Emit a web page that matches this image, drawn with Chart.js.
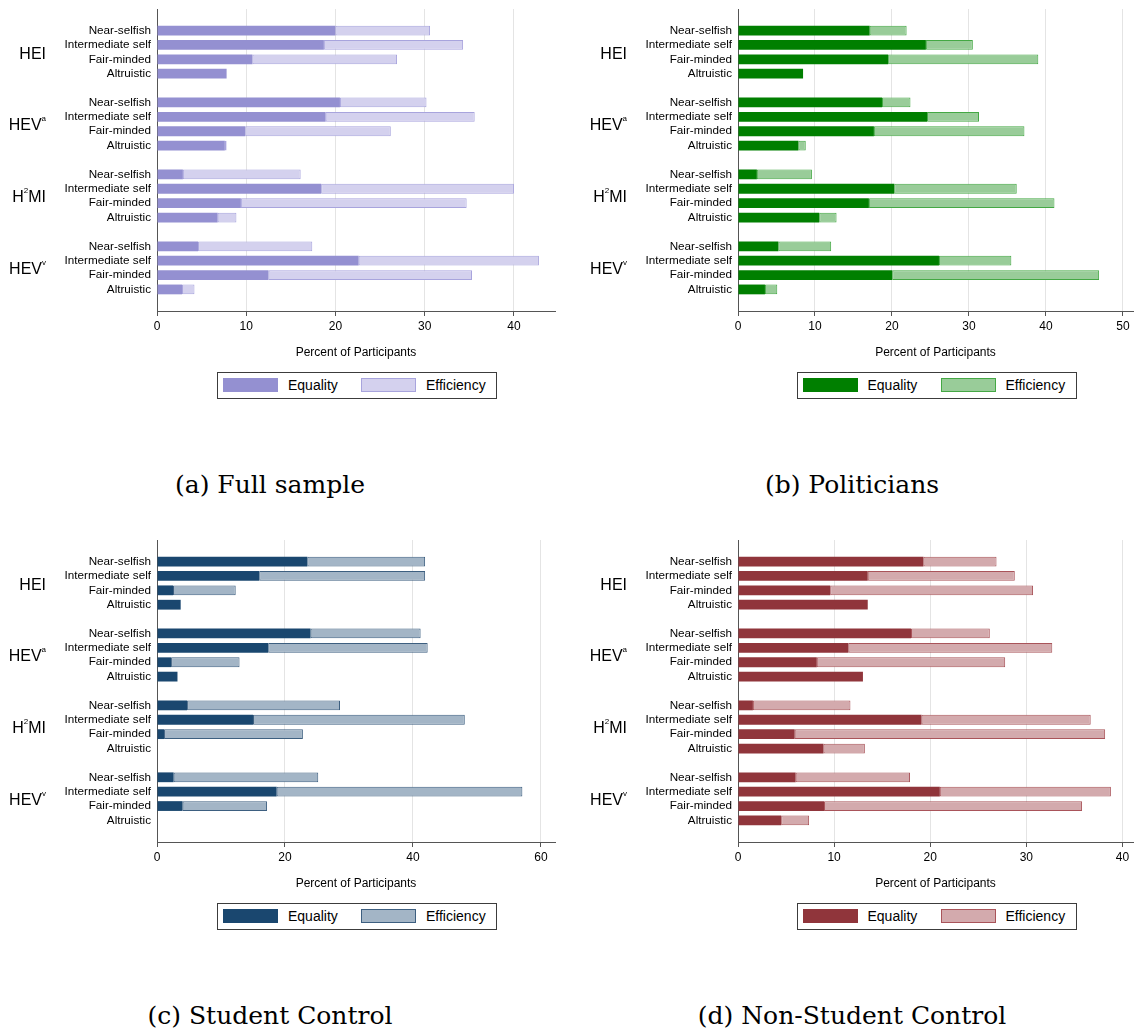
<!DOCTYPE html>
<html>
<head>
<meta charset="utf-8">
<script src="https://cdn.jsdelivr.net/npm/chart.js@4.4.1/dist/chart.umd.min.js"></script>
<style>
  body { margin: 0; background: #fff; width: 1136px; height: 1032px; position: relative; overflow: hidden;
         font-family: "Liberation Sans", Arial, sans-serif; }
  .panel { position: absolute; }
  .legend { position: absolute; width: 278px; height: 25px; border: 1px solid #3c3c3c; font-size: 14px; color: #000; }
  .legend .sw { position: absolute; top: 5px; width: 55px; height: 14px; box-sizing: border-box; }
  .legend .lb { position: absolute; top: 0; line-height: 25px; }
  .caption { position: absolute; font-family: "DejaVu Serif", serif; font-size: 25px; line-height: 30px;
             text-align: center; color: #000; }
</style>
</head>
<body>
<script>
const rowLabels = ["Near-selfish", "Intermediate self", "Fair-minded", "Altruistic"];
const groupMain = ["HEI", "HEV", "H", "HEV"];
const groupSup  = ["", "a", "2", "v"];
const groupTail = ["", "", "MI", ""];
const seriesNames = ["Equality", "Efficiency"];
const axisTitle = "Percent of Participants";

// values per group: HEI, HEV^a, H^2MI, HEV^v  (4 rows each)
const fullEquality   = [20.0, 18.7, 10.7, 7.8,   20.5, 18.9, 9.9, 7.6,    2.9, 18.4, 9.4, 6.8,    4.6, 22.6, 12.5, 2.8];
const fullEfficiency = [10.6, 15.6, 16.2, null,  9.7, 16.7, 16.3, 0.2,    13.2, 21.6, 25.3, 2.1,  12.8, 20.2, 22.8, 1.4];

const polEquality    = [17.1, 24.4, 19.5, 8.45,  18.7, 24.55, 17.65, 7.85, 2.45, 20.3, 17.0, 10.55, 5.25, 26.1, 20.05, 3.5];
const polEfficiency  = [4.8, 6.1, 19.5, null,    3.7, 6.75, 19.55, 0.95,  7.15, 15.9, 24.1, 2.25,  6.85, 9.4, 26.85, 1.6];

const stuEquality    = [23.5, 16.0, 2.5, 3.7,    24.0, 17.4, 2.2, 3.2,    4.7, 15.0, 1.1, null,   2.6, 18.7, 4.0, null];
const stuEfficiency  = [18.4, 25.9, 9.8, null,   17.2, 24.9, 10.7, null,  23.9, 33.1, 21.7, null, 22.6, 38.4, 13.2, null];

const nonEquality    = [19.3, 13.5, 9.6, 13.5,   18.0, 11.5, 8.2, 13.0,   1.55, 19.1, 5.9, 8.9,   6.0, 21.0, 8.95, 4.5];
const nonEfficiency  = [7.6, 15.3, 21.1, null,   8.2, 21.2, 19.6, null,   10.15, 17.6, 32.3, 4.3, 11.9, 17.8, 26.85, 2.9];

const captions = ["(a) Full sample", "(b) Politicians", "(c) Student Control", "(d) Non-Student Control"];
const xMax  = [44.6, 51.3, 62.2, 41.1];
const xStep = [10, 10, 20, 10];

const FONT = '"Liberation Sans", Arial, sans-serif';

const panels = [
  { eq: fullEquality, ef: fullEfficiency, left: 0,   top: 0,   yWidth: 157, padRight: 13,
    c1: "#9490D1", c2: "#D4D1EE", b2: "#A8A4DD" },
  { eq: polEquality,  ef: polEfficiency,  left: 568, top: 0,   yWidth: 170, padRight: 3,
    c1: "#007F00", c2: "#99CC99", b2: "#44A844" },
  { eq: stuEquality,  ef: stuEfficiency,  left: 0,   top: 531, yWidth: 157, padRight: 13,
    c1: "#1A476F", c2: "#A3B5C6", b2: "#3D5F80" },
  { eq: nonEquality,  ef: nonEfficiency,  left: 568, top: 531, yWidth: 170, padRight: 3,
    c1: "#90353B", c2: "#D3AAAD", b2: "#A9545A" }
];

// spread the 16 values over 21 slots, with an empty slot around every group
function slots(values) {
  const out = [null];
  values.forEach((v, i) => {
    out.push(v);
    if (i % 4 === 3) out.push(null);
  });
  return out;
}

const labels = [""];
groupMain.forEach(() => { rowLabels.forEach(r => labels.push(r)); labels.push(""); });

const groupLabelPlugin = {
  id: 'groupLabels',
  afterDraw(chart) {
    const {ctx, chartArea, scales: {y}} = chart;
    ctx.save();
    ctx.fillStyle = '#000';
    ctx.textBaseline = 'middle';
    groupMain.forEach((main, g) => {
      const i = 1 + g * 5;
      const yc = (y.getPixelForValue(i + 1) + y.getPixelForValue(i + 2)) / 2 + 2;
      ctx.font = '16px ' + FONT;
      const w1 = ctx.measureText(main).width;
      const w3 = ctx.measureText(groupTail[g]).width;
      ctx.font = '8px ' + FONT;
      const w2 = ctx.measureText(groupSup[g]).width;
      let x = chartArea.left - 111 - (w1 + w2 + w3);
      ctx.textAlign = 'left';
      ctx.font = '16px ' + FONT;
      ctx.fillText(main, x, yc);
      x += w1;
      ctx.font = '8px ' + FONT;
      ctx.fillText(groupSup[g], x, yc - 7);
      x += w2;
      ctx.font = '16px ' + FONT;
      ctx.fillText(groupTail[g], x, yc);
    });
    ctx.restore();
  }
};

panels.forEach((p, k) => {
  const canvas = document.createElement('canvas');
  canvas.className = 'panel';
  canvas.width = 568;
  canvas.height = 365;
  canvas.style.left = p.left + 'px';
  canvas.style.top = p.top + 'px';
  document.body.appendChild(canvas);

  new Chart(canvas, {
    type: 'bar',
    data: {
      labels: labels,
      datasets: [
        { label: seriesNames[0], data: slots(p.eq), backgroundColor: p.c1, borderWidth: 0,
          barPercentage: 0.68, categoryPercentage: 1 },
        { label: seriesNames[1], data: slots(p.ef), backgroundColor: p.c2, borderColor: p.b2,
          borderWidth: 1, borderSkipped: false, barPercentage: 0.68, categoryPercentage: 1 }
      ]
    },
    options: {
      responsive: false,
      animation: false,
      indexAxis: 'y',
      layout: { padding: { top: 9, right: p.padRight, left: 0, bottom: 0 } },
      plugins: { legend: { display: false }, tooltip: { enabled: false } },
      scales: {
        x: {
          stacked: true, min: 0, max: xMax[k],
          afterFit: s => { s.height = 54; s.paddingLeft = 0; s.paddingRight = 0; },
          grid: { color: '#e4e4e4', tickColor: '#555', tickLength: 5 },
          border: { color: '#555', width: 1 },
          ticks: { stepSize: xStep[k], includeBounds: false, padding: 3, color: '#000', maxRotation: 0,
                   font: { size: 12, family: FONT } },
          title: { display: true, text: axisTitle, color: '#000', font: { size: 12, family: FONT },
                   padding: { top: 0, bottom: 5 } }
        },
        y: {
          stacked: true,
          afterFit: s => { s.width = p.yWidth; s.paddingTop = 0; s.paddingBottom = 0; },
          grid: { display: false, drawTicks: false },
          border: { color: '#555', width: 1 },
          ticks: { autoSkip: false, padding: 6, color: '#000', font: { size: 11.7, family: FONT } }
        }
      }
    },
    plugins: [groupLabelPlugin]
  });

  // legend box, centred under the plot area
  const plotCenter = p.left + (p.yWidth + 568 - p.padRight) / 2;
  const lg = document.createElement('div');
  lg.className = 'legend';
  lg.style.left = (plotCenter - 139) + 'px';
  lg.style.top = (p.top + 372) + 'px';
  lg.innerHTML =
    '<div class="sw" style="left:5px;background:' + p.c1 + '"></div>' +
    '<div class="lb" style="left:70px">' + seriesNames[0] + '</div>' +
    '<div class="sw" style="left:143px;background:' + p.c2 + ';border:1px solid ' + p.b2 + '"></div>' +
    '<div class="lb" style="left:208px">' + seriesNames[1] + '</div>';
  document.body.appendChild(lg);

  const cap = document.createElement('div');
  cap.className = 'caption';
  cap.textContent = captions[k];
  cap.style.left = (p.left === 0 ? 0 : 568) + 'px';
  cap.style.width = (p.left === 0 ? 540 : 568) + 'px';
  cap.style.top = (p.top + 470) + 'px';
  document.body.appendChild(cap);
});
</script>
</body>
</html>
